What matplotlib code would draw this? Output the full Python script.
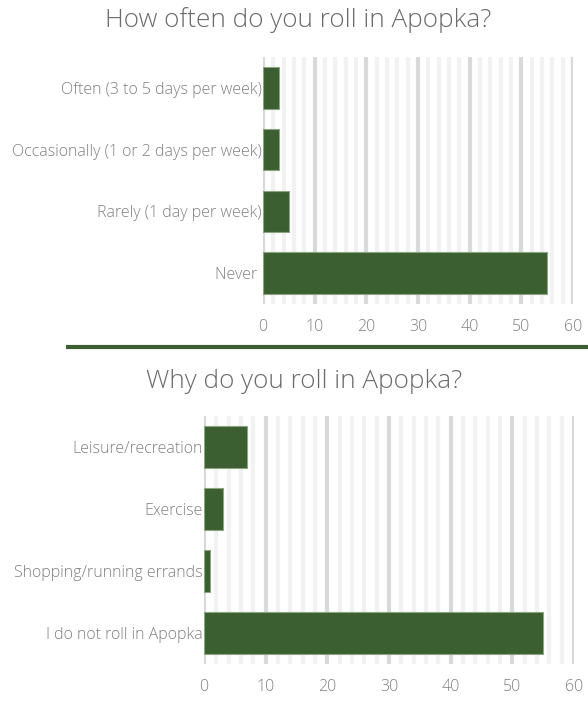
import matplotlib
matplotlib.use("Agg")
import matplotlib.pyplot as plt
from matplotlib.ticker import MultipleLocator

plt.rcParams['font.family'] = ['Open Sans', 'DejaVu Sans']

freq_title = "How often do you roll in Apopka?"
freq_labels = ["Often (3 to 5 days per week)", "Occasionally (1 or 2 days per week)",
               "Rarely (1 day per week)", "Never "]
freq_values = [3, 3, 5, 55]

why_title = "Why do you roll in Apopka?"
why_labels = ["Leisure/recreation", "Exercise", "Shopping/running errands",
              "I do not roll in Apopka"]
why_values = [7, 3, 1, 55]

x_ticks = [0, 10, 20, 30, 40, 50, 60]

BAR = '#3b5f31'
EDGE = '#8aa580'
TXT = '#808080'
TITLE = '#6b6b6b'

fig = plt.figure(figsize=(5.88, 7.08), dpi=100)
W, H = 588, 708


def px_axes(x0, y0, x1, y1):
    return fig.add_axes([x0 / W, 1 - y1 / H, (x1 - x0) / W, (y1 - y0) / H])


def draw(ax, labels, values):
    ypos = list(range(len(labels)))
    ax.barh(ypos, values, height=0.67, color=BAR, edgecolor=EDGE, linewidth=0.8, zorder=3)
    ax.set_xlim(0, 60)
    ax.set_ylim(len(labels) - 0.5, -0.5)
    ax.set_yticks(ypos)
    ax.set_yticklabels(labels)
    ax.set_xticks(x_ticks)
    ax.xaxis.set_minor_locator(MultipleLocator(2))
    ax.grid(which='major', axis='x', color='#d9d9d9', linewidth=3, zorder=0)
    ax.grid(which='minor', axis='x', color='#f2f2f2', linewidth=3, zorder=0)
    ax.grid(which='major', axis='y', visible=False)
    ax.set_axisbelow(True)
    for s in ax.spines.values():
        s.set_visible(False)
    ax.tick_params(axis='both', which='both', length=0)
    ax.tick_params(axis='y', pad=1, labelsize=11.5, labelcolor=TXT)
    ax.tick_params(axis='x', pad=11, labelsize=11.5, labelcolor=TXT)
    for t in ax.get_xticklabels() + ax.get_yticklabels():
        t.set_fontweight('light')


ax1 = px_axes(263, 57, 573, 304)
draw(ax1, freq_labels, freq_values)
ax2 = px_axes(204, 416, 574, 664)
draw(ax2, why_labels, why_values)

fig.text(298 / W, 1 - 20 / H, freq_title, ha='center', va='center',
         fontsize=18.8, color=TITLE, fontweight='light')
fig.text(304 / W, 1 - 381 / H, why_title, ha='center', va='center',
         fontsize=18.8, color=TITLE, fontweight='light')

# divider between the two panels
fig.add_artist(plt.Line2D([66 / W, 1.0], [1 - 347 / H, 1 - 347 / H],
                          color=BAR, linewidth=3, solid_capstyle='butt',
                          transform=fig.transFigure))

fig.savefig('out.png', dpi=100)
